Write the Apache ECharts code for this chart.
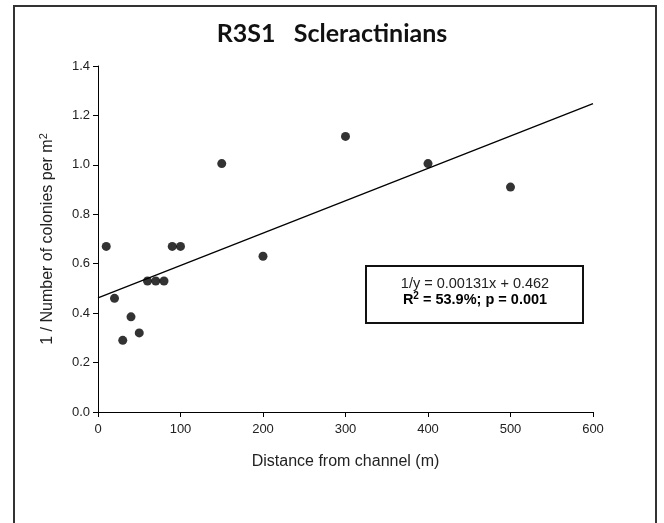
<!DOCTYPE html>
<html>
<head>
<meta charset="utf-8">
<script src="https://cdn.jsdelivr.net/npm/echarts@6/dist/echarts.min.js"></script>
<style>html,body{margin:0;padding:0;background:#fff}#c{width:664px;height:523px}</style>
</head>
<body>
<div id="c"></div>
<script>
// ---- data ----
const distance = [10, 20, 30, 40, 50, 60, 70, 80, 90, 100, 150, 200, 300, 400, 500];
const invDensity = [0.67, 0.46, 0.29, 0.385, 0.32, 0.53, 0.53, 0.53, 0.67, 0.67, 1.005, 0.63, 1.115, 1.005, 0.91];
const fitSlope = [0.00131];
const fitIntercept = [0.462];
const fitRange = [0, 600];
const xTicks = [0, 100, 200, 300, 400, 500, 600];
const yTicks = [0.0, 0.2, 0.4, 0.6, 0.8, 1.0, 1.2, 1.4];
const titleText = 'R3S1   Scleractinians';
const eqLine1 = '1/y = 0.00131x + 0.462';

const fitLine = fitRange.map(x => [x, fitIntercept[0] + fitSlope[0] * x]);

const chart = echarts.init(document.getElementById('c'), null, {renderer: 'canvas'});
const axisCommon = {
  axisLine: {show: true, onZero: false, lineStyle: {color: '#000', width: 1}},
  axisTick: {show: true, inside: false, length: 5, lineStyle: {color: '#000'}},
  splitLine: {show: false},
  axisLabel: {color: '#222', fontFamily: 'Liberation Sans', fontSize: 13}
};
chart.setOption({
  backgroundColor: '#fff',
  animation: false,
  title: {
    text: titleText, left: 'center', top: 16,
    textStyle: {fontFamily: 'Lato', fontWeight: 'bold', fontSize: 25, color: '#111'}
  },
  grid: {left: 98, right: 71, top: 66, bottom: 111},
  xAxis: Object.assign({}, axisCommon, {
    type: 'value', min: xTicks[0], max: xTicks[xTicks.length - 1], interval: 100,
    name: 'Distance from channel (m)', nameLocation: 'middle', nameGap: 42,
    nameTextStyle: {fontFamily: 'Liberation Sans', fontSize: 16, color: '#222'},
    axisLabel: Object.assign({}, axisCommon.axisLabel, {margin: 11})
  }),
  yAxis: Object.assign({}, axisCommon, {
    type: 'value', min: yTicks[0], max: yTicks[yTicks.length - 1], interval: 0.2,
    name: '1 / Number of colonies per m{sup|2}', nameLocation: 'middle', nameGap: 40,
    nameTextStyle: {fontFamily: 'Liberation Sans', fontSize: 16, color: '#222',
      rich: {sup: {fontFamily: 'Liberation Sans', fontSize: 11, color: '#222', verticalAlign: 'bottom', padding: [0,0,9,0]}}},
    axisLabel: Object.assign({}, axisCommon.axisLabel, {margin: 8, formatter: v => v.toFixed(1)})
  }),
  series: [
    {
      type: 'line', data: fitLine, symbol: 'none', silent: true,
      lineStyle: {color: '#000', width: 1.3}, z: 2
    },
    {
      type: 'scatter', data: distance.map((x, i) => [x, invDensity[i]]),
      symbol: 'circle', symbolSize: 9, itemStyle: {color: '#000'}, z: 3
    }
  ],
  graphic: [
    {type: 'rect', shape: {x: 14, y: 6, width: 642, height: 540}, style: {fill: 'none', stroke: '#333', lineWidth: 2}, z: 10},
    {type: 'rect', shape: {x: 366, y: 266, width: 217, height: 57}, style: {fill: '#fff', stroke: '#111', lineWidth: 2}, z: 10},
    {type: 'text', x: 475, y: 283.5, z: 11, style: {text: eqLine1, fontFamily: 'Liberation Sans', fontSize: 14.5, fill: '#222', align: 'center', verticalAlign: 'middle'}},
    {type: 'text', x: 475, y: 299.5, z: 11, style: {
      text: '{b|R}{s|2}{b| = 53.9%; p = 0.001}', align: 'center', verticalAlign: 'middle',
      rich: {
        b: {fontFamily: 'Liberation Sans', fontWeight: 'bold', fontSize: 14.5, color: '#111'},
        s: {fontFamily: 'Liberation Sans', fontWeight: 'bold', fontSize: 10, color: '#111', verticalAlign: 'top', padding: [0,0,7,0]}
      }
    }}
  ]
});
</script>
</body>
</html>
